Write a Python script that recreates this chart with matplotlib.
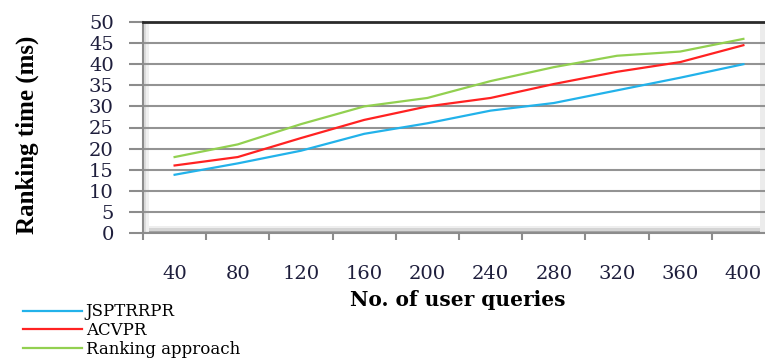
import matplotlib
matplotlib.use("Agg")
import matplotlib.pyplot as plt
import numpy as np

queries = [40, 80, 120, 160, 200, 240, 280, 320, 360, 400]
jsptrrpr = [13.8, 16.5, 19.5, 23.5, 26.0, 29.0, 30.8, 33.8, 36.8, 40.0]
acvpr = [16.0, 18.0, 22.5, 26.8, 30.0, 32.0, 35.3, 38.2, 40.5, 44.5]
ranking = [18.0, 21.0, 25.8, 30.0, 32.0, 36.0, 39.3, 42.0, 43.0, 46.0]
y_ticks = list(range(0, 51, 5))

SERIES = [
    ("JSPTRRPR", jsptrrpr, "#22b2ea"),
    ("ACVPR", acvpr, "#ff2222"),
    ("Ranking approach", ranking, "#92d050"),
]

fig = plt.figure(figsize=(7.65, 3.62), dpi=100)
ax = fig.add_axes([143 / 765, 129 / 362, 632 / 765, 211 / 362])

x = np.arange(len(queries)) + 0.5
lines = []
for name, values, color in SERIES:
    (ln,) = ax.plot(x, values, color=color, lw=1.6, label=name, zorder=5)
    lines.append(ln)

ax.set_xlim(0, len(queries))
ax.set_ylim(0, 50)

# gridlines and the dark top edge of the plot area
ax.set_yticks(y_ticks)
ax.yaxis.grid(True, color="#939393", lw=1.5, zorder=0.5)
ax.set_axisbelow(True)
ax.axhline(50, color="#2a2a2a", lw=2.0, zorder=4, clip_on=False)

# 3d-ish floor and wall shading
ax.axhspan(0, 0.5, color="#a8a8a8", lw=0, zorder=0.2)
ax.axhspan(0.5, 1.1, color="#d4d4d4", lw=0, zorder=0.2)
ax.axhspan(1.1, 1.6, color="#eeeeee", lw=0, zorder=0.2)
ax.axvspan(0, 0.05, color="#dcdcdc", lw=0, zorder=0.2)
ax.axvspan(0.05, 0.1, color="#f0f0f0", lw=0, zorder=0.2)
ax.axvspan(9.76, 9.84, color="#ececec", lw=0, zorder=0.2)

for side in ("top", "right"):
    ax.spines[side].set_visible(False)
for side in ("left", "bottom"):
    ax.spines[side].set_color("#8c8c8c")
    ax.spines[side].set_linewidth(1.5)

tick_font = dict(family="DejaVu Serif", size=14)
ax.set_yticklabels([str(v) for v in y_ticks], fontdict=tick_font, color="#1e1e3c")
ax.tick_params(axis="y", length=10, width=1.5, color="#8c8c8c", pad=11)

ax.set_xticks(x)
ax.set_xticklabels([str(q) for q in queries], fontdict=tick_font, color="#1e1e3c")
ax.set_xticks(np.arange(len(queries) + 1), minor=True)
ax.tick_params(axis="x", which="major", length=0, pad=23)
ax.tick_params(axis="x", which="minor", length=5, width=1.5, color="#8c8c8c")

fig.text(27 / 765, 1 - 135 / 362, "Ranking time (ms)", rotation=90,
         ha="center", va="center", family="Liberation Serif",
         fontweight="bold", fontsize=18)
fig.text(458 / 765, 1 - 300 / 362, "No. of user queries", ha="center",
         va="center", family="DejaVu Serif", fontweight="bold", fontsize=14.5)

fig.legend(handles=lines, loc="upper left", bbox_to_anchor=(15 / 765, 1 - 295 / 362),
           frameon=False, borderpad=0, handlelength=3.5, handletextpad=0.25,
           labelspacing=0.1, prop=dict(family="DejaVu Serif", size=12))

fig.savefig("out.png", dpi=100)
